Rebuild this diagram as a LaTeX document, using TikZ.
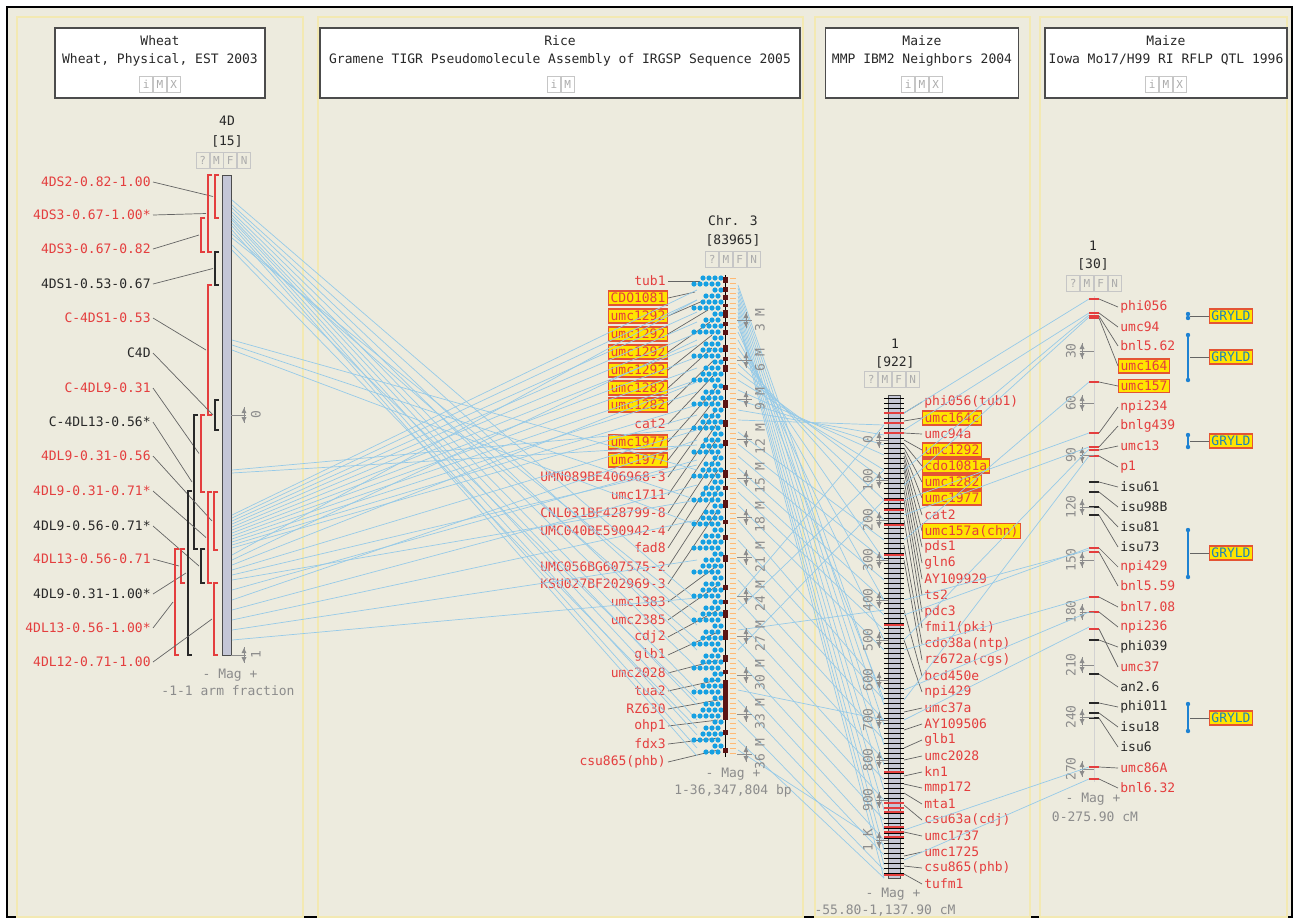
\documentclass[tikz,border=0pt]{standalone}
\usepackage{fontspec}
\newfontfamily\mapfont{DejaVu Sans Mono}
\usetikzlibrary{positioning}

\definecolor{pagebg}{RGB}{237,235,222}
\definecolor{panelyellow}{RGB}{243,233,178}
\definecolor{mapred}{RGB}{228,62,62}
\definecolor{mapblack}{RGB}{40,40,40}
\definecolor{hlfill}{RGB}{255,228,0}
\definecolor{hlborder}{RGB}{228,84,52}
\definecolor{corrblue}{RGB}{150,202,232}
\definecolor{dotblue}{RGB}{22,160,226}
\definecolor{scalegray}{RGB}{140,140,140}
\definecolor{leadgray}{RGB}{100,100,100}
\definecolor{qtlblue}{RGB}{30,130,210}
\definecolor{gryldtext}{RGB}{30,130,185}
\definecolor{barfill}{RGB}{196,198,214}
\definecolor{ricebar}{RGB}{90,20,20}

\begin{document}
\begin{tikzpicture}[x=0.5pt, y=-0.5pt,
every node/.style={font=\mapfont\fontsize{6.5}{7.5}\selectfont, inner sep=1pt},
lbl/.style={text=mapred},
blk/.style={text=mapblack},
hit/.style={text=mapred, fill=hlfill, draw=hlborder, line width=0.6pt},
gryld/.style={text=gryldtext, fill=hlfill, draw=hlborder, line width=0.6pt},
header/.style={draw=black!70, fill=white, line width=0.8pt, minimum height=35pt},
iconbox/.style={draw=gray!45, text=gray!65, minimum width=6.5pt, minimum height=8pt, inner sep=0pt, font=\mapfont\fontsize{5.5}{6}\selectfont},
leader/.style={draw=leadgray, line width=0.35pt},
corr/.style={draw=corrblue, line width=0.35pt},
scaletxt/.style={text=scalegray, rotate=90},
magtxt/.style={text=scalegray},
panel/.style={draw=panelyellow, line width=0.7pt},
mag/.pic={
  \fill[scalegray] (-2.5,-2) -- (2.5,-2) -- (0,-7) -- cycle;
  \fill[scalegray] (-2.5,2) -- (2.5,2) -- (0,7) -- cycle;
  \draw[scalegray, line width=0.3pt] (0,-8) -- (0,8);
}
]
\useasboundingbox (0,0) rectangle (1298,923);
\fill[white] (0,0) rectangle (1298,923);
\draw[fill=pagebg, line width=1.1pt] (7,7) rectangle (1292,917);

% the four map panels
\draw[panel] (17,17) rectangle (303,917);
\draw[panel] (318,17) rectangle (803,917);
\draw[panel] (815,17) rectangle (1030,917);
\draw[panel] (1040,17) rectangle (1287,917);

% panel titles
\node[header, minimum width=105pt] (wheat) at (160,63) {};
\node[blk] (wheatsp) at (160,41) {Wheat};
\node[blk] (wheatset) at (160,60) {Wheat, Physical, EST 2003};
\node[iconbox] (wiM) at (160,84) {M};
\node[iconbox, left=0pt of wiM] (wiI) {i};
\node[iconbox, right=0pt of wiM] (wiX) {X};

\node[header, minimum width=240pt] (rice) at (560,63) {};
\node[blk] (ricesp) at (560,41) {Rice};
\node[blk] (riceset) at (560,60) {Gramene TIGR Pseudomolecule Assembly of IRGSP Sequence 2005};
\node[iconbox] (riI) at (554,84) {i};
\node[iconbox, right=0pt of riI] (riM) {M};

\node[header, minimum width=96.5pt] (ibm) at (922,63) {};
\node[blk] (ibmsp) at (922,41) {Maize};
\node[blk] (ibmset) at (922,60) {MMP IBM2 Neighbors 2004};
\node[iconbox] (miM) at (922,84) {M};
\node[iconbox, left=0pt of miM] (miI) {i};
\node[iconbox, right=0pt of miM] (miX) {X};

\node[header, minimum width=121pt] (qtl) at (1166,63) {};
\node[blk] (qtlsp) at (1166,41) {Maize};
\node[blk] (qtlset) at (1166,60) {Iowa Mo17/H99 RI RFLP QTL 1996};
\node[iconbox] (qiM) at (1166,84) {M};
\node[iconbox, left=0pt of qiM] (qiI) {i};
\node[iconbox, right=0pt of qiM] (qiX) {X};

% ---- wheat 4D ----
\node[blk] (w4d) at (227,121) {4D};
\node[blk] (w4dn) at (227,141) {[15]};
\node[iconbox] (wcM) at (216.5,160) {M};
\node[iconbox, left=0pt of wcM] (wcQ) {?};
\node[iconbox, right=0pt of wcM] (wcF) {F};
\node[iconbox, right=0pt of wcF] (wcN) {N};
\draw[fill=barfill, draw=gray!60!black, line width=0.5pt] (222,175) rectangle (231,655);
\draw[scalegray] (231,415) -- (246,415);
\pic at (244,415) {mag};
\node[scaletxt] (w0) at (256,415) {0};
\draw[scalegray] (231,655) -- (246,655);
\pic at (244,655) {mag};
\node[scaletxt] (w1) at (256,655) {1};
\node[magtxt] (wmag) at (230,675) {- Mag +};
\node[magtxt] (wunit) at (228,691) {-1-1 arm fraction};

\foreach \y/\t/\s/\c/\bx/\bt/\bb [count=\i] in {
  182/4DS2-0.82-1.00/lbl/mapred/215/175/218,
  215/4DS3-0.67-1.00*/lbl/mapred/208/175/252,
  249/4DS3-0.67-0.82/lbl/mapred/201/218/252,
  284/4DS1-0.53-0.67/blk/mapblack/215/252/285,
  318/C-4DS1-0.53/lbl/mapred/208/285/415,
  353/C4D/blk/mapblack/215/400/430,
  388/C-4DL9-0.31/lbl/mapred/201/415/492,
  422/C-4DL13-0.56*/blk/mapblack/194/415/549,
  456/4DL9-0.31-0.56/lbl/mapred/214/492/550,
  491/4DL9-0.31-0.71*/lbl/mapred/208/492/583,
  526/4DL9-0.56-0.71*/blk/mapblack/201/549/583,
  559/4DL13-0.56-0.71/lbl/mapred/181/549/583,
  594/4DL9-0.31-1.00*/blk/mapblack/188/491/655,
  628/4DL13-0.56-1.00*/lbl/mapred/175/549/655,
  662/4DL12-0.71-1.00/lbl/mapred/214/583/655} {
  \node[\s, anchor=east] (wl\i) at (153,\y) {\t};
  \draw[\c, line width=0.6pt] (\bx+4,\bt) -- (\bx,\bt) -- (\bx,\bb) -- (\bx+4,\bb);
  \coordinate (wb\i) at (\bx-2,{(\bt+\bb)/2});
  \draw[leader] (wl\i.east) -- (wb\i);
}

% ---- rice chr. 3 ----
\node[blk] (rchr) at (733,221) {Chr. 3};
\node[blk] (rchrn) at (733,240) {[83965]};
\node[iconbox] (rcM) at (726,259) {M};
\node[iconbox, left=0pt of rcM] (rcQ) {?};
\node[iconbox, right=0pt of rcM] (rcF) {F};
\node[iconbox, right=0pt of rcF] (rcN) {N};

\foreach \y/\t/\s/\tx/\ty [count=\i] in {
  281/tub1/lbl/700/281, 298/CDO1081/hit/695/292, 316/umc1292/hit/705/300,
  334/umc1292/hit/708/310, 352/umc1292/hit/710/322, 370/umc1292/hit/712/335,
  388/umc1282/hit/712/348, 405/umc1282/hit/714/360, 424/cat2/lbl/714/375,
  442/umc1977/hit/716/388, 460/umc1977/hit/716/398,
  477/UMN089BE406968-3/lbl/716/410, 495/umc1711/lbl/716/425,
  513/CNL031BF428799-8/lbl/716/440, 531/UMC040BE590942-4/lbl/718/455,
  548/fad8/lbl/718/470, 567/UMC056BG607575-2/lbl/718/490,
  584/KSU027BF202969-3/lbl/718/510, 602/umc1383/lbl/718/565,
  620/umc2385/lbl/718/585, 637/cdj2/lbl/718/610, 655/glb1/lbl/718/632,
  673/umc2028/lbl/718/660, 691/tua2/lbl/718/680, 709/RZ630/lbl/718/700,
  726/ohp1/lbl/718/720, 744/fdx3/lbl/718/738, 762/csu865(phb)/lbl/718/750} {
  \node[\s, anchor=east] (rl\i) at (668,\y) {\t};
  \coordinate (rt\i) at (\tx,\ty);
  \draw[leader] (rl\i.east) -- (rt\i);
}

% ---- maize IBM2 chr. 1 ----
\node[blk] (mchr) at (895,344) {1};
\node[blk] (mchrn) at (895,362) {[922]};
\node[iconbox] (mcM) at (885,379) {M};
\node[iconbox, left=0pt of mcM] (mcQ) {?};
\node[iconbox, right=0pt of mcM] (mcF) {F};
\node[iconbox, right=0pt of mcF] (mcN) {N};

\foreach \y/\t/\s/\ty [count=\i] in {
  402/phi056(tub1)/lbl/413, 418/umc164c/hit/421, 434/umc94a/lbl/433,
  450/umc1292/hit/440, 466/cdo1081a/hit/444, 482/umc1282/hit/448,
  498/umc1977/hit/452, 515/cat2/lbl/456, 531/umc157a(chn)/hit/460,
  547/pds1/lbl/465, 563/gln6/lbl/470, 579/AY109929/lbl/480, 595/ts2/lbl/490,
  612/pdc3/lbl/500, 628/fmi1(pki)/lbl/520, 644/cdo38a(ntp)/lbl/545,
  660/rz672a(cgs)/lbl/560, 676/bcd450e/lbl/610, 692/npi429/lbl/640,
  708/umc37a/lbl/712, 724/AY109506/lbl/730, 740/glb1/lbl/748,
  756/umc2028/lbl/760, 772/kn1/lbl/776, 788/mmp172/lbl/784, 804/mta1/lbl/793,
  820/csu63a(cdj)/lbl/805, 836/umc1737/lbl/832, 852/umc1725/lbl/856,
  868/csu865(phb)/lbl/866, 884/tufm1/lbl/874} {
  \node[\s, anchor=west] (ml\i) at (922,\y) {\t};
  \coordinate (mt\i) at (904,\ty);
  \draw[leader] (mt\i) -- (ml\i.west);
}

% ---- maize QTL chr. 1 ----
\node[blk] (qchr) at (1093,246) {1};
\node[blk] (qchrn) at (1093,264) {[30]};
\node[iconbox] (qcM) at (1087,283) {M};
\node[iconbox, left=0pt of qcM] (qcQ) {?};
\node[iconbox, right=0pt of qcM] (qcF) {F};
\node[iconbox, right=0pt of qcF] (qcN) {N};
\draw[gray!35, line width=0.4pt] (1094,296) -- (1094,782);

\foreach \y/\t/\s/\c/\ty [count=\i] in {
  307/phi056/lbl/mapred/299, 327/umc94/lbl/mapred/313, 346/bnl5.62/lbl/mapred/316,
  366/umc164/hit/mapred/318, 386/umc157/hit/mapred/382, 407/npi234/lbl/mapred/433,
  426/bnlg439/lbl/mapred/447, 446/umc13/lbl/mapred/450, 467/p1/lbl/mapred/456,
  487/isu61/blk/mapblack/482, 507/isu98B/blk/mapblack/492, 527/isu81/blk/mapblack/507,
  547/isu73/blk/mapblack/515, 567/npi429/lbl/mapred/548, 586/bnl5.59/lbl/mapred/552,
  607/bnl7.08/lbl/mapred/597, 627/npi236/lbl/mapred/612, 647/phi039/blk/mapblack/640,
  667/umc37/lbl/mapred/629, 687/an2.6/blk/mapblack/674, 707/phi011/blk/mapblack/703,
  727/isu18/blk/mapblack/713, 747/isu6/blk/mapblack/718, 768/umc86A/lbl/mapred/767,
  788/bnl6.32/lbl/mapred/779} {
  \node[\s, anchor=west] (ql\i) at (1118,\y) {\t};
  \draw[\c, line width=0.6pt] (1089,\ty) -- (1099,\ty);
  \coordinate (qt\i) at (1099,\ty);
  \draw[leader] (qt\i) -- (ql\i.west);
}
\foreach \v/\y in {30/351, 60/403, 90/455, 120/507, 150/560, 180/612, 210/665, 240/717, 270/769} {
  \draw[scalegray, line width=0.4pt] (1080,\y) -- (1094,\y);
  \pic at (1082,\y) {mag};
  \node[scaletxt] at (1071,\y) {\v};
}
\node[magtxt] (qmag) at (1093,799) {- Mag +};
\node[magtxt] (qunit) at (1095,817) {0-275.90 cM};

% QTL intervals
\foreach \a/\b/\m [count=\i] in {314/318/316, 335/380/357, 435/447/441, 530/577/553, 704/731/718} {
  \draw[qtlblue, line width=0.8pt] (1188,\a) -- (1188,\b);
  \fill[qtlblue] (1188,\a) circle (2.2) (1188,\b) circle (2.2);
  \node[gryld] (gr\i) at (1231,\m) {GRYLD};
  \coordinate (gi\i) at (1190,\m);
  \draw[leader] (gi\i) -- (gr\i.west);
}

% ---- correspondences ----
\foreach \a/\b in {200/600, 205/625, 208/650, 212/668, 215/690, 218/705, 220/720,
  223/735, 226/748, 230/756, 234/640, 238/612, 245/700, 250/728, 340/470, 345/500,
  350/525, 470/428, 473/445, 515/290, 518/300, 521/312, 524/322, 527/333, 530/345,
  533/357, 536/368, 539/380, 542/392, 545/405, 548/415, 555/300, 560/340, 565/382,
  570/430, 575/465, 580/500, 590/460, 600/440, 610/485, 620/520, 630/560, 640/598} {
  \path (232,\a) coordinate (wc) (697,\b) coordinate (rc);
  \draw[corr] (wc) -- (rc);
}
\foreach \a/\b in {285/705, 288/725, 292/745, 296/765, 300/790, 304/810, 308/830,
  312/850, 316/865, 320/878, 326/700, 332/640, 340/600, 348/560, 356/520, 364/500,
  372/480, 380/470, 390/455, 400/445, 410/435, 420/425, 432/540, 444/560, 456/580,
  468/600, 480/615, 492/630, 505/650, 520/690, 540/700, 560/720, 580/740, 600/760,
  620/780, 640/800, 660/820, 680/840, 700/855, 720/870, 740/878, 750/845, 610/470,
  630/610, 650/500, 690/720, 596/425} {
  \path (738,\a) coordinate (rc) (884,\b) coordinate (mc);
  \draw[corr] (rc) -- (mc);
}
\foreach \a/\b in {413/299, 430/313, 470/315, 485/317, 540/382, 500/433, 515/447,
  640/449, 700/456, 600/550, 615/548, 650/597, 690/612, 720/627, 830/767, 860/779} {
  \path (904,\a) coordinate (mc) (1089,\b) coordinate (qc);
  \draw[corr] (mc) -- (qc);
}

% rice feature dots and sequence bar
\foreach \i in {0,...,79} {
  \pgfmathtruncatemacro\n{1+mod(\i*5+2,4)}
  \foreach \k in {0,...,\n}
    \fill[dotblue] ({721-6*\k-3*mod(\i,2)},{278+6*\i}) circle (2.6);
}
\draw[black, line width=0.5pt] (725,275) -- (725,757);
\foreach \a/\b in {277/283, 287/292, 295/300, 304/307, 310/318, 322/326, 330/335,
  345/352, 357/361, 365/372, 385/390, 400/408, 420/427, 440/446, 470/478, 486/490,
  500/508, 520/524, 535/540, 555/562, 585/590, 600/604, 610/618, 630/640, 655/662,
  670/674, 680/720, 730/735, 748/753}
  \fill[ricebar] (723,\a) rectangle (728,\b);
\foreach \t in {278,283,...,753}
  \draw[orange!55, line width=0.4pt] (730,\t) -- (736,\t);
\foreach \m/\y in {3/320, 6/360, 9/399, 12/439, 15/478, 18/517, 21/557, 24/596,
  27/636, 30/675, 33/714, 36/754} {
  \draw[scalegray, line width=0.4pt] (737,\y) -- (752,\y);
  \pic at (746,\y) {mag};
  \node[scaletxt] at (760,\y) {\m\ M};
}
\node[magtxt] (rmag) at (733,774) {- Mag +};
\node[magtxt] (runit) at (733,791) {1-36,347,804 bp};

% maize IBM2 bar with its marker ticks
\draw[fill=barfill, draw=gray!60!black, line width=0.4pt] (888,395) rectangle (900,878);
\foreach \t in {398,403,...,876}
  \draw[black, line width=0.45pt] (884,\t) -- (904,\t);
\foreach \t in {413,423,433,500,510,525,555,625,772,803,808,812,827,832,837,875}
  \draw[mapred, line width=0.6pt] (884,\t) -- (904,\t);
\foreach \v/\y in {0/440, 100/480, 200/520, 300/560, 400/600, 500/640, 600/680,
  700/720, 800/760, 900/800, 1 K/840} {
  \draw[scalegray, line width=0.4pt] (876,\y) -- (888,\y);
  \pic at (879,\y) {mag};
  \node[scaletxt] at (868,\y) {\v};
}
\node[magtxt] (mmag) at (893,894) {- Mag +};
\node[magtxt] (munit) at (885,911) {-55.80-1,137.90 cM};

\end{tikzpicture}
\end{document}
